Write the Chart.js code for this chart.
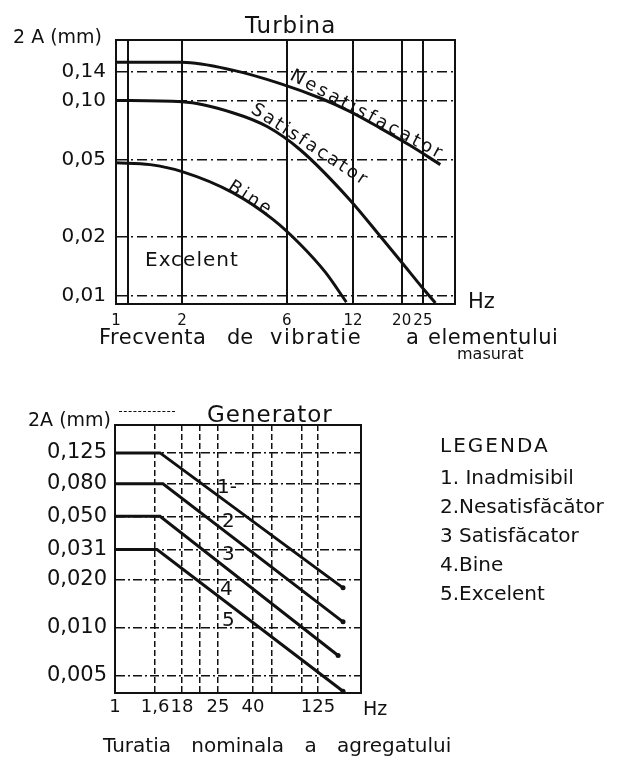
<!DOCTYPE html>
<html>
<head>
<meta charset="utf-8">
<script src="https://cdn.jsdelivr.net/npm/chart.js"></script>
<style>
  body { margin: 0; background: #fff; }
  #pagina { position: relative; width: 634px; height: 772px; overflow: hidden;
            font-family: "DejaVu Sans", sans-serif; color: #111; }
  canvas { position: absolute; left: 0; }
  .t { position: absolute; white-space: pre; line-height: 1; }
  .rot { transform-origin: 0 0.84em; }
</style>
</head>
<body>
<div id="pagina">
  <canvas id="turbina" width="634" height="380" style="top:0"></canvas>
  <canvas id="generator" width="634" height="392" style="top:380px"></canvas>

  <!-- texte grafic turbina -->
  <div class="t" style="left:13px;top:27px;font-size:19px">2 A (mm)</div>
  <div class="t" style="left:245px;top:14px;font-size:23px;letter-spacing:1px">Turbina</div>
  <div class="t" style="left:468px;top:291px;font-size:21px">Hz</div>
  <div class="t" style="left:99px;top:327px;font-size:21px;letter-spacing:0.5px">Frecventa</div>
  <div class="t" style="left:227px;top:327px;font-size:21px">de</div>
  <div class="t" style="left:270px;top:327px;font-size:21px;letter-spacing:1.5px">vibratie</div>
  <div class="t" style="left:406px;top:327px;font-size:21px">a</div>
  <div class="t" style="left:428px;top:327px;font-size:21px;letter-spacing:0.5px">elementului</div>
  <div class="t" style="left:457px;top:346px;font-size:16px">masurat</div>
  <div class="t" style="left:145px;top:249px;font-size:20px;letter-spacing:1px">Excelent</div>
  <div class="t rot" style="left:289px;top:64px;font-size:18px;letter-spacing:3px;transform:rotate(28deg)">Nesatisfacator</div>
  <div class="t rot" style="left:250px;top:97px;font-size:18px;letter-spacing:2.4px;transform:rotate(33deg)">Satisfacator</div>
  <div class="t rot" style="left:227px;top:174px;font-size:18px;letter-spacing:2.5px;transform:rotate(33deg)">Bine</div>

  <!-- texte grafic generator -->
  <div class="t" style="left:28px;top:410px;font-size:19px">2A (mm)</div>
  <div style="position:absolute;left:119px;top:411px;width:56px;border-top:1.5px dashed #111"></div>
  <div class="t" style="left:207px;top:403px;font-size:23px;letter-spacing:1px">Generator</div>
  <div class="t" style="left:363px;top:699px;font-size:19px">Hz</div>
  <div class="t" style="left:103px;top:735px;font-size:20px;word-spacing:14px">Turatia nominala a agregatului</div>
  <div class="t" style="left:217px;top:476px;font-size:20px">1-</div>
  <div class="t" style="left:222px;top:510px;font-size:20px">2</div>
  <div class="t" style="left:222px;top:543px;font-size:20px">3</div>
  <div class="t" style="left:220px;top:578px;font-size:20px">4</div>
  <div class="t" style="left:222px;top:609px;font-size:20px">5</div>

  <!-- legenda -->
  <div class="t" style="left:440px;top:435px;font-size:20px;letter-spacing:2px">LEGENDA</div>
  <div class="t" style="left:440px;top:467px;font-size:20px">1. Inadmisibil</div>
  <div class="t" style="left:440px;top:496px;font-size:20px">2.Nesatisfăcător</div>
  <div class="t" style="left:440px;top:525px;font-size:20px">3 Satisfăcator</div>
  <div class="t" style="left:440px;top:554px;font-size:20px">4.Bine</div>
  <div class="t" style="left:440px;top:583px;font-size:20px">5.Excelent</div>
</div>

<script>
// turbina: frecventa (Hz) si amplitudinea 2A (mm) citite de pe curbe
const turbFrecvTicks = [1, 1.13, 2, 6, 12, 20, 25];
const turbFrecvEtichete = ['1', '', '2', '6', '12', '20', '25'];
const turbAmplTicks = [0.01, 0.02, 0.05, 0.10, 0.14];
const turbAmplEtichete = ['0,01', '0,02', '0,05', '0,10', '0,14'];

const frecvNesatisf = [1, 2, 3.4, 5.6, 8.5, 11.6, 15.9, 21.8, 30];
const amplNesatisf = [0.157, 0.157, 0.143, 0.122, 0.103, 0.088, 0.0725, 0.059, 0.047];

const frecvSatisf = [1, 2, 3.4, 4.9, 6.9, 11.6, 16.4, 19.7, 25.6, 28.5];
const amplSatisf = [0.100, 0.0985, 0.0866, 0.0734, 0.056, 0.0311, 0.0195, 0.0152, 0.0106, 0.0092];

const frecvBine = [1, 1.43, 2, 3.4, 5.2, 6.9, 9, 11.2];
const amplBine = [0.048, 0.047, 0.0433, 0.0338, 0.0246, 0.0184, 0.0132, 0.0093];

// generator: axa orizontala e neuniforma, deci se lucreaza in diviziuni (0-100)
const genAxaPoz = [0, 16.3, 27.2, 34.6, 41.9, 56.1, 63.8, 76.0, 82.5];
const genAxaEtichete = ['1', '1,6', '18', '', '25', '40', '', '', '125'];
const genAmplTicks = [0.005, 0.010, 0.020, 0.031, 0.050, 0.080, 0.125];
const genAmplEtichete = ['0,005', '0,010', '0,020', '0,031', '0,050', '0,080', '0,125'];

const genPoz1 = [0, 18.3, 92.7];
const genLimita1 = [0.125, 0.125, 0.0178];
const genPoz2 = [0, 19.5, 92.7];
const genLimita2 = [0.080, 0.080, 0.0109];
const genPoz3 = [0, 18.3, 90.7];
const genLimita3 = [0.050, 0.050, 0.0067];
const genPoz4 = [0, 17.1, 92.7];
const genLimita4 = [0.031, 0.031, 0.0040];

const negru = '#111';
const fontFam = '"DejaVu Sans", sans-serif';

function puncte(xs, ys) {
    return xs.map((x, i) => ({ x: x, y: ys[i] }));
}

// chenarul graficului (sus si dreapta nu le deseneaza axele)
const chenar = {
    id: 'chenar',
    afterDraw(chart) {
        const { ctx, chartArea: a } = chart;
        ctx.save();
        ctx.strokeStyle = negru;
        ctx.lineWidth = 2;
        ctx.strokeRect(a.left, a.top, a.right - a.left, a.bottom - a.top);
        ctx.restore();
    }
};

function curba(xs, ys) {
    return {
        data: puncte(xs, ys),
        borderColor: negru,
        borderWidth: 3,
        pointRadius: 0,
        cubicInterpolationMode: 'monotone',
        fill: false
    };
}

function dreapta(xs, ys) {
    return {
        data: puncte(xs, ys),
        borderColor: negru,
        borderWidth: 3,
        tension: 0,
        pointRadius: ctx => ctx.dataIndex === ctx.dataset.data.length - 1 ? 2.5 : 0,
        pointBackgroundColor: negru,
        pointBorderWidth: 0,
        fill: false
    };
}

//grafic turbina

new Chart(document.getElementById('turbina').getContext('2d'), {
    type: 'line',
    data: {
        datasets: [
            curba(frecvNesatisf, amplNesatisf),
            curba(frecvSatisf, amplSatisf),
            curba(frecvBine, amplBine)
        ]
    },
    options: {
        responsive: false,
        animation: false,
        layout: { padding: { top: 40, right: 179, left: 0, bottom: 0 } },
        plugins: { legend: { display: false }, tooltip: { enabled: false } },
        scales: {
            x: {
                type: 'logarithmic',
                min: 1,
                max: 35,
                afterBuildTicks: s => { s.ticks = turbFrecvTicks.map(v => ({ value: v })); },
                afterFit: s => { s.height = 76; },
                ticks: {
                    autoSkip: false, maxRotation: 0, padding: 8, color: negru,
                    font: { family: fontFam, size: 15 },
                    callback: (v, i) => turbFrecvEtichete[i]
                },
                grid: { color: negru, lineWidth: 2, drawTicks: false },
                border: { color: negru, width: 2 }
            },
            y: {
                type: 'logarithmic',
                min: 0.0091,
                max: 0.204,
                afterBuildTicks: s => { s.ticks = turbAmplTicks.map(v => ({ value: v })); },
                afterFit: s => { s.width = 116; },
                ticks: {
                    autoSkip: false, padding: 10, color: negru,
                    font: { family: fontFam, size: 20 },
                    callback: (v, i) => turbAmplEtichete[i]
                },
                grid: { color: negru, lineWidth: 1.5, drawTicks: false },
                border: { color: negru, width: 2, dash: [10, 4, 2, 4] }
            }
        }
    },
    plugins: [chenar]
});

//grafic generator

new Chart(document.getElementById('generator').getContext('2d'), {
    type: 'line',
    data: {
        datasets: [
            dreapta(genPoz1, genLimita1),
            dreapta(genPoz2, genLimita2),
            dreapta(genPoz3, genLimita3),
            dreapta(genPoz4, genLimita4)
        ]
    },
    options: {
        responsive: false,
        animation: false,
        layout: { padding: { top: 45, right: 273, left: 0, bottom: 0 } },
        plugins: { legend: { display: false }, tooltip: { enabled: false } },
        scales: {
            x: {
                type: 'linear',
                min: 0,
                max: 100,
                afterBuildTicks: s => { s.ticks = genAxaPoz.map(v => ({ value: v })); },
                afterFit: s => { s.height = 79; },
                ticks: {
                    autoSkip: false, maxRotation: 0, padding: 4, color: negru,
                    font: { family: fontFam, size: 18 },
                    callback: (v, i) => genAxaEtichete[i]
                },
                grid: { color: negru, lineWidth: 1.5, drawTicks: false },
                border: { color: negru, width: 2, dash: [6, 3] }
            },
            y: {
                type: 'logarithmic',
                min: 0.0039,
                max: 0.187,
                afterBuildTicks: s => { s.ticks = genAmplTicks.map(v => ({ value: v })); },
                afterFit: s => { s.width = 115; },
                ticks: {
                    autoSkip: false, padding: 8, color: negru,
                    font: { family: fontFam, size: 21 },
                    callback: (v, i) => genAmplEtichete[i]
                },
                grid: { color: negru, lineWidth: 1.5, drawTicks: false },
                border: { color: negru, width: 2, dash: [9, 3, 2, 3] }
            }
        }
    },
    plugins: [chenar]
});
</script>
</body>
</html>
